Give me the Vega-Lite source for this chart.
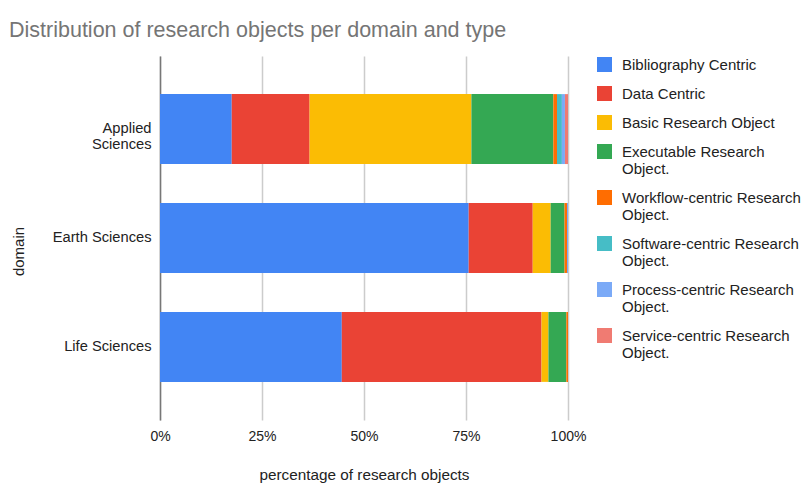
{
  "$schema": "https://vega.github.io/schema/vega-lite/v6.json",
  "width": 408,
  "height": 364,
  "autosize": "none",
  "padding": {"left": 160, "top": 56, "right": 233, "bottom": 63},
  "title": {
    "text": "Distribution of research objects per domain and type",
    "anchor": "start",
    "frame": "group",
    "dx": -151,
    "fontSize": 21.5,
    "font": "Liberation Sans",
    "fontWeight": "normal",
    "color": "#757575",
    "offset": 15
  },
  "config": {
    "view": {"stroke": null},
    "font": "Liberation Sans"
  },
  "data": {
    "values": [
      {"domain": "Applied Sciences", "type": "Bibliography Centric", "k": 1, "pct": 17.6},
      {"domain": "Applied Sciences", "type": "Data Centric", "k": 2, "pct": 19.1},
      {"domain": "Applied Sciences", "type": "Basic Research Object", "k": 3, "pct": 39.7},
      {"domain": "Applied Sciences", "type": "Executable Research Object.", "k": 4, "pct": 20.1},
      {"domain": "Applied Sciences", "type": "Workflow-centric Research Object.", "k": 5, "pct": 0.9},
      {"domain": "Applied Sciences", "type": "Software-centric Research Object.", "k": 6, "pct": 1.2},
      {"domain": "Applied Sciences", "type": "Process-centric Research Object.", "k": 7, "pct": 0.75},
      {"domain": "Applied Sciences", "type": "Service-centric Research Object.", "k": 8, "pct": 0.75},
      {"domain": "Earth Sciences", "type": "Bibliography Centric", "k": 1, "pct": 75.7},
      {"domain": "Earth Sciences", "type": "Data Centric", "k": 2, "pct": 15.7},
      {"domain": "Earth Sciences", "type": "Basic Research Object", "k": 3, "pct": 4.4},
      {"domain": "Earth Sciences", "type": "Executable Research Object.", "k": 4, "pct": 3.4},
      {"domain": "Earth Sciences", "type": "Workflow-centric Research Object.", "k": 5, "pct": 0.6},
      {"domain": "Earth Sciences", "type": "Software-centric Research Object.", "k": 6, "pct": 0},
      {"domain": "Earth Sciences", "type": "Process-centric Research Object.", "k": 7, "pct": 0.25},
      {"domain": "Earth Sciences", "type": "Service-centric Research Object.", "k": 8, "pct": 0},
      {"domain": "Life Sciences", "type": "Bibliography Centric", "k": 1, "pct": 44.6},
      {"domain": "Life Sciences", "type": "Data Centric", "k": 2, "pct": 49.0},
      {"domain": "Life Sciences", "type": "Basic Research Object", "k": 3, "pct": 1.7},
      {"domain": "Life Sciences", "type": "Executable Research Object.", "k": 4, "pct": 4.4},
      {"domain": "Life Sciences", "type": "Workflow-centric Research Object.", "k": 5, "pct": 0.4},
      {"domain": "Life Sciences", "type": "Software-centric Research Object.", "k": 6, "pct": 0},
      {"domain": "Life Sciences", "type": "Process-centric Research Object.", "k": 7, "pct": 0},
      {"domain": "Life Sciences", "type": "Service-centric Research Object.", "k": 8, "pct": 0}
    ]
  },
  "mark": {"type": "bar"},
  "encoding": {
    "y": {
      "field": "domain",
      "type": "nominal",
      "sort": ["Applied Sciences", "Earth Sciences", "Life Sciences"],
      "scale": {"paddingInner": 0.358, "paddingOuter": 0.35},
      "axis": {
        "title": "domain",
        "titleFontSize": 15,
        "titleFontWeight": "normal",
        "titleColor": "#222222",
        "titleAngle": -90,
        "titleAlign": "center",
        "titleBaseline": "middle",
        "titleX": -142,
        "titleY": 195,
        "labelFontSize": 14.7,
        "labelColor": "#222222",
        "labelPadding": 9,
        "labelLineHeight": 16,
        "labelExpr": "datum.label == 'Applied Sciences' ? ['Applied', 'Sciences'] : datum.label",
        "ticks": false,
        "domain": true,
        "domainColor": "#777777",
        "domainWidth": 1.5,
        "grid": false
      }
    },
    "x": {
      "field": "pct",
      "type": "quantitative",
      "stack": "normalize",
      "scale": {"domain": [0, 1], "nice": false},
      "axis": {
        "title": "percentage of research objects",
        "titleFontSize": 15.3,
        "titleFontWeight": "normal",
        "titleColor": "#222222",
        "titleBaseline": "middle",
        "titleY": 54,
        "format": ".0%",
        "values": [0, 0.25, 0.5, 0.75, 1],
        "labelFontSize": 14,
        "labelColor": "#222222",
        "labelPadding": 9,
        "labelFlush": false,
        "ticks": false,
        "domain": false,
        "grid": true,
        "gridColor": "#cccccc",
        "gridWidth": 1.5
      }
    },
    "color": {
      "field": "type",
      "type": "nominal",
      "scale": {
        "domain": ["Bibliography Centric", "Data Centric", "Basic Research Object", "Executable Research Object.", "Workflow-centric Research Object.", "Software-centric Research Object.", "Process-centric Research Object.", "Service-centric Research Object."],
        "range": ["#4285F4", "#EA4335", "#FBBC04", "#34A853", "#FF6D01", "#46BDC6", "#7BAAF7", "#F07B72"]
      },
      "legend": {
        "title": null,
        "orient": "none",
        "legendX": 437,
        "legendY": 1,
        "symbolType": "square",
        "symbolSize": 225,
        "symbolStrokeWidth": 0,
        "symbolOpacity": 1,
        "labelFontSize": 15,
        "labelColor": "#222222",
        "labelOffset": 10,
        "labelLimit": 300,
        "labelLineHeight": 17,
        "rowPadding": 13,
        "labelExpr": "length(datum.label) > 24 ? [slice(datum.label, 0, lastindexof(datum.label, ' ')), slice(datum.label, lastindexof(datum.label, ' ') + 1)] : datum.label"
      }
    },
    "order": {"field": "k", "type": "quantitative"}
  }
}
